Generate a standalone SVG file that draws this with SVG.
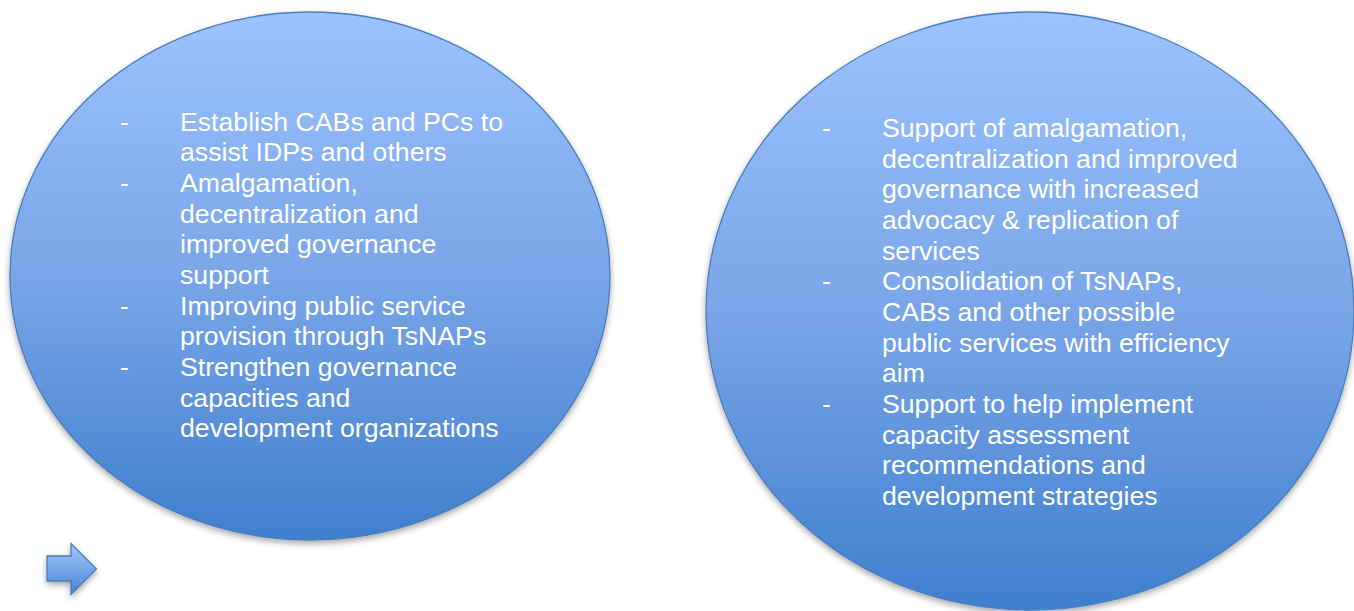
<svg xmlns="http://www.w3.org/2000/svg" width="1354" height="611" viewBox="0 0 1354 611">
<style>
.shape{stroke:#4a7ebb;stroke-width:1.3}
.t{font-family:"Liberation Sans",Arial,sans-serif;font-size:26.67px;fill:#ffffff}
</style>
<defs>
<linearGradient id="gL" x1="0" y1="0" x2="0" y2="1">
<stop offset="0" stop-color="#9dc2ff"/>
<stop offset="0.5" stop-color="#7aa5e8"/>
<stop offset="1" stop-color="#3f7fcd"/>
</linearGradient>
<linearGradient id="gA" x1="0" y1="0" x2="0" y2="1">
<stop offset="0" stop-color="#a3c6ff"/>
<stop offset="1" stop-color="#4a85d2"/>
</linearGradient>
<filter id="sh" x="-10%" y="-10%" width="120%" height="125%">
<feDropShadow dx="0" dy="3" stdDeviation="3" flood-color="#000" flood-opacity="0.35"/>
</filter>
</defs>
<rect width="1354" height="611" fill="#ffffff"/>
<g id="node-left">
<ellipse class="shape" cx="310" cy="276" rx="300" ry="264" fill="url(#gL)" filter="url(#sh)"/>
<text class="t" x="120" y="130.5">-</text>
<text class="t" x="120" y="191.8">-</text>
<text class="t" x="120" y="314.5">-</text>
<text class="t" x="120" y="375.8">-</text>
<text class="t" y="130.5">
<tspan x="180">Establish CABs and PCs to</tspan>
<tspan x="180" dy="30.67">assist IDPs and others</tspan>
<tspan x="180" dy="30.67">Amalgamation,</tspan>
<tspan x="180" dy="30.67">decentralization and</tspan>
<tspan x="180" dy="30.67">improved governance</tspan>
<tspan x="180" dy="30.67">support</tspan>
<tspan x="180" dy="30.67">Improving public service</tspan>
<tspan x="180" dy="30.67">provision through TsNAPs</tspan>
<tspan x="180" dy="30.67">Strengthen governance</tspan>
<tspan x="180" dy="30.67">capacities and</tspan>
<tspan x="180" dy="30.67">development organizations</tspan>
</text>
</g>
<g id="node-right">
<ellipse class="shape" cx="1030" cy="311" rx="324" ry="299" fill="url(#gL)" filter="url(#sh)"/>
<text class="t" x="822" y="137">-</text>
<text class="t" x="822" y="290.4">-</text>
<text class="t" x="822" y="412.7">-</text>
<text class="t" y="137">
<tspan x="882">Support of amalgamation,</tspan>
<tspan x="882" dy="30.67">decentralization and improved</tspan>
<tspan x="882" dy="30.67">governance with increased</tspan>
<tspan x="882" dy="30.67">advocacy &amp; replication of</tspan>
<tspan x="882" dy="30.67">services</tspan>
<tspan x="882" dy="30.67">Consolidation of TsNAPs,</tspan>
<tspan x="882" dy="30.67">CABs and other possible</tspan>
<tspan x="882" dy="30.67">public services with efficiency</tspan>
<tspan x="882" dy="30.67">aim</tspan>
<tspan x="882" dy="30.67">Support to help implement</tspan>
<tspan x="882" dy="30.67">capacity assessment</tspan>
<tspan x="882" dy="30.67">recommendations and</tspan>
<tspan x="882" dy="30.67">development strategies</tspan>
</text>
</g>
<g id="connectors">
<path class="shape" d="M47,556 L71,556 L71,543.5 L96.5,569 L71,594.5 L71,581 L47,581 Z" fill="url(#gA)" filter="url(#sh)"/>
</g>
</svg>
